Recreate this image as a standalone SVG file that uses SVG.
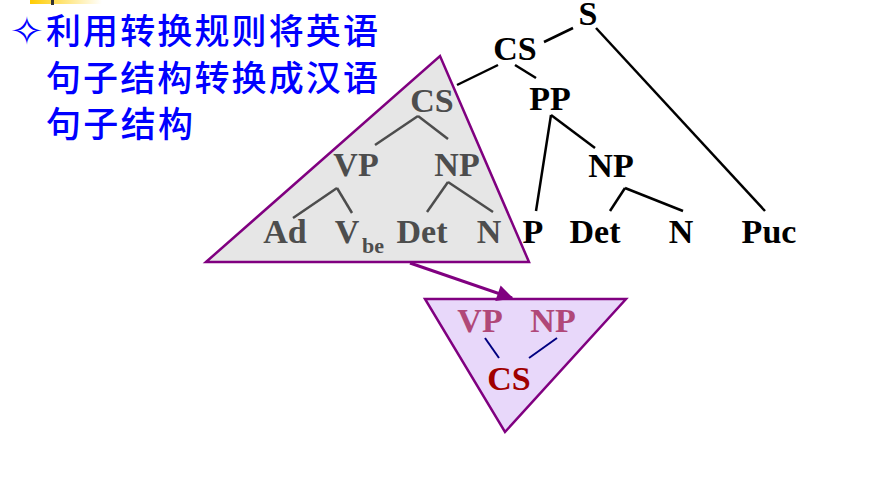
<svg xmlns="http://www.w3.org/2000/svg" width="895" height="477" viewBox="0 0 895 477">
<defs>
<linearGradient id="yb" x1="0" y1="0" x2="1" y2="0">
<stop offset="0" stop-color="#FFCC00"/>
<stop offset="0.5" stop-color="#FFE680"/>
<stop offset="1" stop-color="#FFFFFF"/>
</linearGradient>
<marker id="ah" viewBox="0 0 10 10" refX="9" refY="5" markerWidth="6" markerHeight="5.5" orient="auto" markerUnits="strokeWidth">
<path d="M0,0 L10,5 L0,10 Z" fill="#800080"/>
</marker>
<style>
.t{font-family:"Liberation Serif","Times New Roman",serif;font-weight:bold;font-size:34px;text-anchor:middle}
.blk{fill:#000}
.gry{fill:#4D4D4D}
.rose{fill:#B04878}
.red{fill:#A00000}
.cn{font-family:"Noto Sans CJK SC","Noto Sans CJK TC",sans-serif;font-size:35px;font-weight:500;fill:#0000FF}
.lb{stroke:#000;stroke-width:2.5;fill:none}
.lg{stroke:#4D4D4D;stroke-width:2.5;fill:none}
.ln{stroke:#000080;stroke-width:2;fill:none}
</style>
</defs>
<rect width="895" height="477" fill="#FFFFFF"/>
<rect x="30" y="0" width="72" height="4" fill="url(#yb)"/>
<rect x="51" y="0" width="3" height="5" fill="#333"/>

<g id="title">
<text x="10" y="45" style="font-family:'DejaVu Sans',sans-serif;font-size:40px;fill:#0000FF">✧</text>
<text class="cn" x="46" y="44" textLength="332" lengthAdjust="spacing">利用转换规则将英语</text>
<text class="cn" x="46" y="91" textLength="332" lengthAdjust="spacing">句子结构转换成汉语</text>
<text class="cn" x="46" y="137" textLength="147" lengthAdjust="spacing">句子结构</text>
</g>

<g id="source-triangle">
<polygon points="206,262 440,56 529,262" fill="#E6E6E6" stroke="#800080" stroke-width="2.5"/>
</g>
<g id="target-triangle">
<polygon points="425,299 626,299 505,432" fill="#E8D8FA" stroke="#800080" stroke-width="2.5"/>
</g>

<g id="connectors">
<line class="lb" x1="573" y1="28" x2="544" y2="42"/>
<line class="lb" x1="596" y1="28" x2="765" y2="211"/>
<line class="lb" x1="498" y1="65" x2="457" y2="85"/>
<line class="lb" x1="515" y1="65" x2="536" y2="78"/>
<line class="lb" x1="551" y1="115" x2="536" y2="211"/>
<line class="lb" x1="551" y1="115" x2="595" y2="148"/>
<line class="lb" x1="625" y1="188" x2="610" y2="211"/>
<line class="lb" x1="625" y1="188" x2="683" y2="211"/>
<line class="lg" x1="418" y1="116" x2="375" y2="145"/>
<line class="lg" x1="418" y1="116" x2="448" y2="139"/>
<line class="lg" x1="337" y1="188" x2="293" y2="218"/>
<line class="lg" x1="337" y1="188" x2="352" y2="213"/>
<line class="lg" x1="448" y1="182" x2="427" y2="212"/>
<line class="lg" x1="448" y1="182" x2="493" y2="212"/>
<line class="ln" x1="485" y1="338" x2="499" y2="358"/>
<line class="ln" x1="557" y1="338" x2="529" y2="358"/>
<line x1="410" y1="263" x2="512" y2="298" stroke="#800080" stroke-width="3" marker-end="url(#ah)"/>
</g>

<g id="node-S"><text class="t blk" x="588" y="25">S</text></g>
<g id="node-CS"><text class="t blk" x="515" y="60">CS</text></g>
<g id="node-PP"><text class="t blk" x="550" y="110">PP</text></g>
<g id="node-NP2"><text class="t blk" x="611" y="177">NP</text></g>
<g id="node-P"><text class="t blk" x="533" y="243">P</text></g>
<g id="node-Det2"><text class="t blk" x="595" y="243">Det</text></g>
<g id="node-N2"><text class="t blk" x="681" y="243">N</text></g>
<g id="node-Puc"><text class="t blk" x="769" y="243">Puc</text></g>

<g id="node-CS-gray"><text class="t gry" x="432" y="112">CS</text></g>
<g id="node-VP-gray"><text class="t gry" x="356" y="176">VP</text></g>
<g id="node-NP-gray"><text class="t gry" x="457" y="176">NP</text></g>
<g id="node-Ad"><text class="t gry" x="285" y="243">Ad</text></g>
<g id="node-Vbe"><text class="t gry" x="347" y="243">V</text><text class="gry" x="362" y="253" style="font-family:'Liberation Serif','Times New Roman',serif;font-weight:bold;font-size:22px">be</text></g>
<g id="node-Det-gray"><text class="t gry" x="422" y="243">Det</text></g>
<g id="node-N-gray"><text class="t gry" x="489" y="243">N</text></g>

<g id="node-VP-t"><text class="t rose" x="480" y="332">VP</text></g>
<g id="node-NP-t"><text class="t rose" x="553" y="332">NP</text></g>
<g id="node-CS-t"><text class="t red" x="509" y="390">CS</text></g>
</svg>
